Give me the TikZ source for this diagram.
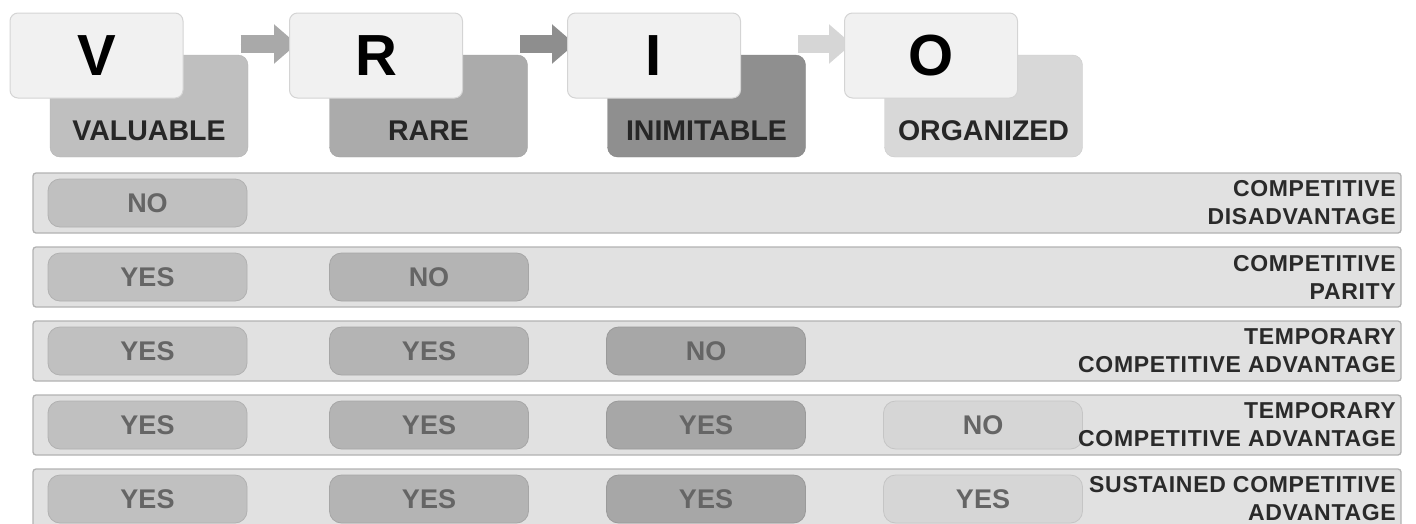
\documentclass[tikz,border=0pt]{standalone}
\usepackage{fontspec}
\setmainfont{Liberation Sans}
\newfontfamily\resfont[LetterSpace=3]{Liberation Sans}
\usetikzlibrary{arrows.meta}
\pgfdeclarelayer{bg}
\pgfsetlayers{bg,main}
\definecolor{frontfill}{HTML}{F1F1F1}
\definecolor{frontline}{HTML}{D4D4D4}
\definecolor{bVc}{HTML}{BFBFBF}
\definecolor{bRc}{HTML}{ABABAB}
\definecolor{bIc}{HTML}{8F8F8F}
\definecolor{bOc}{HTML}{D8D8D8}
\definecolor{aone}{HTML}{A9A9A9}
\definecolor{atwo}{HTML}{8E8E8E}
\definecolor{athree}{HTML}{D6D6D6}
\definecolor{rowfill}{HTML}{E1E1E1}
\definecolor{rowline}{HTML}{B2B2B2}
\definecolor{pone}{HTML}{C0C0C0}
\definecolor{ptwo}{HTML}{B4B4B4}
\definecolor{pthree}{HTML}{A7A7A7}
\definecolor{pfour}{HTML}{D6D6D6}
\definecolor{pilltext}{HTML}{656565}
\definecolor{labelcol}{HTML}{262626}
\definecolor{restextcol}{HTML}{2A2A2A}
\begin{document}
\begin{tikzpicture}[x=1pt,y=-1pt,
  frontbox/.style={draw=frontline, line width=1pt, fill=frontfill, rounded corners=8pt,
    minimum width=173pt, minimum height=85pt, inner sep=0pt,
    font=\fontsize{58}{58}\selectfont\bfseries, text=black},
  backbox/.style={rounded corners=10pt, minimum width=198pt, minimum height=102pt, inner sep=0pt},
  labeltext/.style={font=\fontsize{28.5}{30}\selectfont\bfseries, text=labelcol, anchor=base, inner sep=0pt},
  rowbox/.style={draw=rowline, fill=rowfill, rounded corners=3pt, minimum width=1368pt,
    minimum height=60pt, inner sep=0pt, line width=1.3pt},
  pill/.style={rounded corners=12pt, minimum width=199pt, minimum height=48pt, inner sep=0pt,
    font=\fontsize{27}{27}\selectfont\bfseries, text=pilltext, line width=0.8pt},
  colone/.style={pill, fill=pone, draw=pone!92!black},
  coltwo/.style={pill, fill=ptwo, draw=ptwo!92!black},
  colthree/.style={pill, fill=pthree, draw=pthree!92!black},
  colfour/.style={pill, fill=pfour, draw=pfour!92!black},
  restext/.style={anchor=east, align=right, font=\resfont\fontsize{23}{28}\selectfont\bfseries,
    text=restextcol, inner sep=0pt},
  bigarrow/.style={line width=18pt, -{Triangle[length=23pt,width=38pt]}}
]
\useasboundingbox (0,0) rectangle (1416,523);
\clip (0,0) rectangle (1416,523);

% back label boxes
\node[backbox, fill=bVc, draw=bVc!94!black] (bV) at (149,106) {};
\node[backbox, fill=bRc, draw=bRc!94!black] (bR) at (428.5,106) {};
\node[backbox, fill=bIc, draw=bIc!94!black] (bI) at (706.5,106) {};
\node[backbox, fill=bOc, draw=bOc!94!black] (bO) at (983.5,106) {};
\node[labeltext] (tV) at (149,140) {VALUABLE};
\node[labeltext] (tR) at (428.5,140) {RARE};
\node[labeltext] (tI) at (706.5,140) {INIMITABLE};
\node[labeltext] (tO) at (983.5,140) {ORGANIZED};

% front letter boxes
\node[frontbox] (V) at (96.5,55.5) {V};
\node[frontbox] (R) at (376,55.5) {R};
\node[frontbox] (I) at (654,55.5) {I};
\node[frontbox] (O) at (931,55.5) {O};

% arrows
\begin{pgfonlayer}{bg}
\draw[bigarrow, draw=aone, fill=aone] ([shift={(57,-11.5)}]V.east) -- ([shift={(8,-11.5)}]R.west);
\draw[bigarrow, draw=atwo, fill=atwo] ([shift={(57,-11.5)}]R.east) -- ([shift={(8,-11.5)}]I.west);
\draw[bigarrow, draw=athree, fill=athree] ([shift={(57,-11.5)}]I.east) -- ([shift={(8,-11.5)}]O.west);
\end{pgfonlayer}

% rows
\node[rowbox] (row1) at (717,203) {};
\node[rowbox] (row2) at (717,277) {};
\node[rowbox] (row3) at (717,351) {};
\node[rowbox] (row4) at (717,425) {};
\node[rowbox] (row5) at (717,499) {};

% row 1
\node[colone] (r1c1) at (147.5,203) {NO};
\node[restext] (res1) at (1396,203) {COMPETITIVE\\DISADVANTAGE};
% row 2
\node[colone] (r2c1) at (147.5,277) {YES};
\node[coltwo] (r2c2) at (429,277) {NO};
\node[restext] (res2) at (1396,277) {COMPETITIVE\\PARITY};
% row 3
\node[colone] (r3c1) at (147.5,351) {YES};
\node[coltwo] (r3c2) at (429,351) {YES};
\node[colthree] (r3c3) at (706,351) {NO};
\node[restext] (res3) at (1396,351) {TEMPORARY\\COMPETITIVE ADVANTAGE};
% row 4
\node[colone] (r4c1) at (147.5,425) {YES};
\node[coltwo] (r4c2) at (429,425) {YES};
\node[colthree] (r4c3) at (706,425) {YES};
\node[colfour] (r4c4) at (983,425) {NO};
\node[restext] (res4) at (1396,425) {TEMPORARY\\COMPETITIVE ADVANTAGE};
% row 5
\node[colone] (r5c1) at (147.5,499) {YES};
\node[coltwo] (r5c2) at (429,499) {YES};
\node[colthree] (r5c3) at (706,499) {YES};
\node[colfour] (r5c4) at (983,499) {YES};
\node[restext] (res5) at (1396,499) {SUSTAINED COMPETITIVE\\ADVANTAGE};
\end{tikzpicture}
\end{document}
